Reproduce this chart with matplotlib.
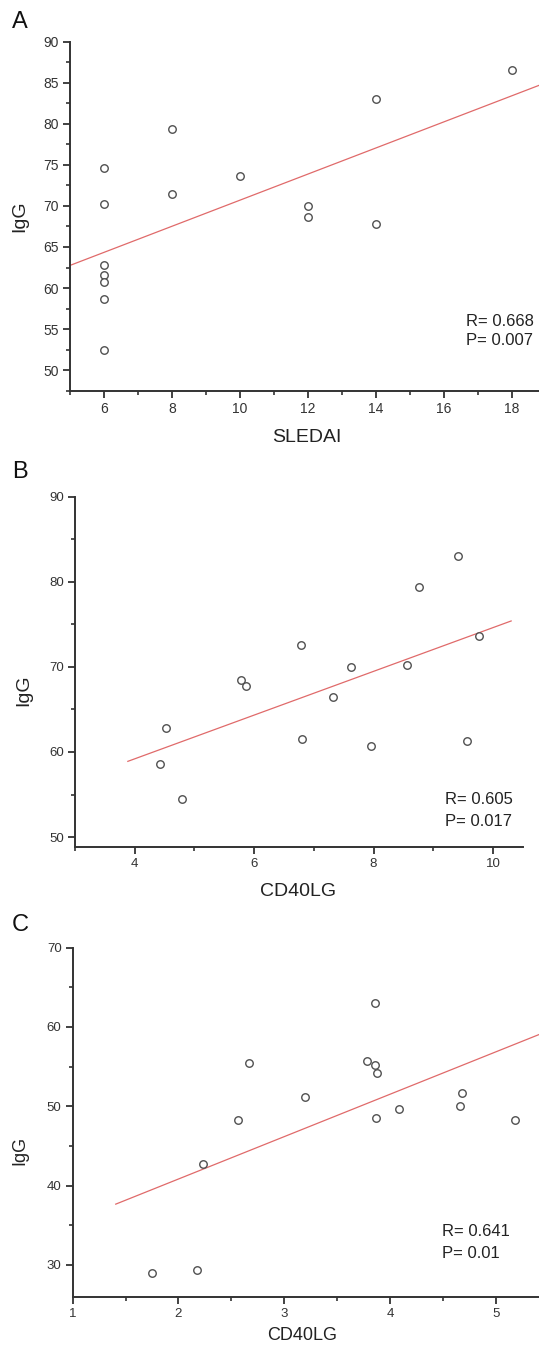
import numpy as np
import matplotlib
matplotlib.use("Agg")
import matplotlib.pyplot as plt
from matplotlib.ticker import MultipleLocator

plt.rcParams['font.family'] = ['Liberation Sans', 'DejaVu Sans']

# panel A: IgG vs SLEDAI
a_x = [6, 6, 6, 6, 6, 6, 6, 8, 8, 10, 12, 12, 14, 14, 18]
a_y = [74.6, 70.2, 62.8, 61.6, 60.7, 58.65, 52.5, 79.35, 71.4, 73.6, 70.0, 68.7, 83.0, 67.75, 86.6]
a_stats = ["R= 0.668", "P= 0.007"]

# panel B: IgG vs CD40LG
b_x = [4.42, 4.53, 4.79, 5.78, 5.86, 6.79, 6.80, 7.32, 7.62, 7.95, 8.56, 8.76, 9.41, 9.56, 9.77]
b_y = [58.63, 62.77, 54.49, 68.5, 67.77, 72.62, 61.52, 66.52, 70.04, 60.74, 70.23, 79.36, 83.0, 61.29, 73.6]
b_stats = ["R= 0.605", "P= 0.017"]

# panel C: IgG vs CD40LG
c_x = [1.75, 2.18, 2.23, 2.56, 2.67, 3.20, 3.78, 3.86, 3.88, 3.86, 3.87, 4.09, 4.66, 4.68, 5.18]
c_y = [28.99, 29.37, 42.7, 48.27, 55.46, 51.17, 55.75, 55.25, 54.16, 62.99, 48.52, 49.7, 50.04, 51.64, 48.27]
c_stats = ["R= 0.641", "P= 0.01"]

W, H = 539, 1349
fig = plt.figure(figsize=(W / 100, H / 100), dpi=100)

axcol = '#333333'


def px(x0, y0, x1, y1):
    # pixel box (left, top, right, bottom) -> figure fraction rect
    return [x0 / W, 1 - y1 / H, (x1 - x0) / W, (y1 - y0) / H]


def panel(rect, x, y, xlim, ylim, xmaj, xmin, ymaj, ymin, ticksize):
    ax = fig.add_axes(rect)
    ax.set_xlim(*xlim)
    ax.set_ylim(*ylim)
    for s in ['top', 'right']:
        ax.spines[s].set_visible(False)
    for s in ['left', 'bottom']:
        ax.spines[s].set_linewidth(1.4)
        ax.spines[s].set_color(axcol)
    ax.xaxis.set_major_locator(MultipleLocator(xmaj))
    ax.xaxis.set_minor_locator(MultipleLocator(xmin))
    ax.yaxis.set_major_locator(MultipleLocator(ymaj))
    ax.yaxis.set_minor_locator(MultipleLocator(ymin))
    ax.tick_params(which='major', direction='out', length=5, width=1.3,
                   color=axcol, labelsize=ticksize, labelcolor='#333333', pad=3)
    ax.tick_params(which='minor', direction='out', length=3, width=1.2, color=axcol)
    # linear fit, drawn over data range +-10% like Origin
    k, b = np.polyfit(x, y, 1)
    span = max(x) - min(x)
    fx = np.array([min(x) - 0.1 * span, max(x) + 0.1 * span])
    ax.plot(fx, k * fx + b, color='#e06a6a', lw=0.9, zorder=2)
    ax.plot(x, y, 'o', ms=5.4, mfc='white', mec='#505050', mew=1.0, zorder=3, clip_on=False)
    return ax


axA = panel(px(70, 41.7, 539, 390.7), a_x, a_y, (5, 18.8), (47.5, 90), 2, 1, 5, 2.5, 10)
axB = panel(px(75, 496.7, 522.8, 847.3), b_x, b_y, (3, 10.5), (48.8, 90), 2, 1, 10, 5, 9.5)
axC = panel(px(72.7, 947.7, 539, 1297.3), c_x, c_y, (1, 5.41), (25.9, 70), 1, 0.5, 10, 5, 9.5)


def ftext(xp, yp, s, **kw):
    fig.text(xp / W, 1 - yp / H, s, **kw)


# panel letters
ftext(12, 22, "A", fontsize=17, va='center', ha='left', color='#111111')
ftext(12, 472, "B", fontsize=17, va='center', ha='left', color='#111111')
ftext(12, 925, "C", fontsize=17, va='center', ha='left', color='#111111')

# axis titles
ftext(20, 216, "IgG", fontsize=14, rotation=90, va='center', ha='center', color='#222222')
ftext(307, 438, "SLEDAI", fontsize=14, va='center', ha='center', color='#222222')
ftext(24, 690, "IgG", fontsize=14, rotation=90, va='center', ha='center', color='#222222')
ftext(298, 892, "CD40LG", fontsize=14, va='center', ha='center', color='#222222')
ftext(20, 1150, "IgG", fontsize=13, rotation=90, va='center', ha='center', color='#222222')
ftext(302, 1336, "CD40LG", fontsize=13, va='center', ha='center', color='#222222')

# statistics
ftext(466, 322, a_stats[0], fontsize=12, va='center', ha='left', color='#222222')
ftext(466, 341, a_stats[1], fontsize=12, va='center', ha='left', color='#222222')
ftext(445, 799, b_stats[0], fontsize=12, va='center', ha='left', color='#222222')
ftext(445, 821, b_stats[1], fontsize=12, va='center', ha='left', color='#222222')
ftext(442, 1232, c_stats[0], fontsize=12, va='center', ha='left', color='#222222')
ftext(442, 1254, c_stats[1], fontsize=12, va='center', ha='left', color='#222222')

fig.savefig("out.png", dpi=100)
